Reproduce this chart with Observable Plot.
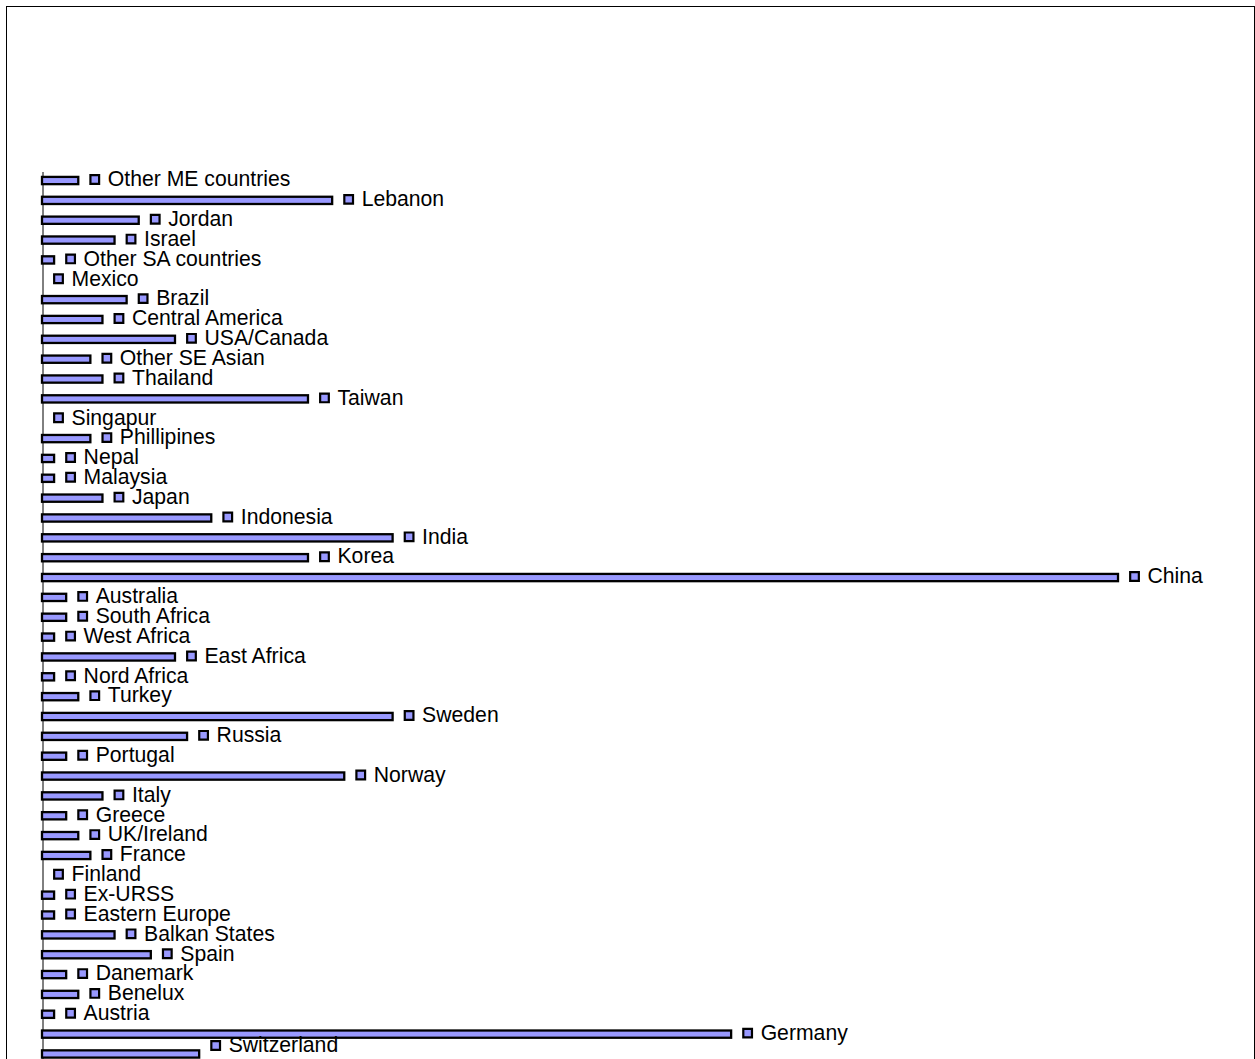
<!DOCTYPE html>
<html><head><meta charset="utf-8">
<script src="https://cdn.jsdelivr.net/npm/d3@7"></script>
<script src="https://cdn.jsdelivr.net/npm/@observablehq/plot@0.6"></script>
<style>
body{margin:0;background:#fff;}
#wrap{position:relative;width:1255px;height:1059px;overflow:hidden;background:#fff;}
#wrap svg{display:block;position:absolute;left:0;top:0;background:transparent;}
#frame{position:absolute;left:6px;top:6px;width:1249px;height:1100px;border:1px solid #000;box-sizing:border-box;pointer-events:none;}
</style></head><body>
<div id="wrap"><div id="frame"></div></div>
<script>
const countries = ["Other ME countries","Lebanon","Jordan","Israel","Other SA countries","Mexico","Brazil","Central America","USA/Canada","Other SE Asian","Thailand","Taiwan","Singapur","Phillipines","Nepal","Malaysia","Japan","Indonesia","India","Korea","China","Australia","South Africa","West Africa","East Africa","Nord Africa","Turkey","Sweden","Russia","Portugal","Norway","Italy","Greece","UK/Ireland","France","Finland","Ex-URSS","Eastern Europe","Balkan States","Spain","Danemark","Benelux","Austria","Germany","Switzerland"];
const values = [3,24,8,6,1,0,7,5,11,4,5,22,0,4,1,1,5,14,29,22,89,2,2,1,11,1,3,29,12,2,25,5,2,3,4,0,1,1,6,9,2,3,1,57,13];

const data = countries.map((c, i) => ({country: c, value: values[i]}));
const n = data.length;
const fillColor = "#9999ff";
const font = "'Liberation Sans', Arial, Helvetica, sans-serif";

const labelMarks = (filter, dy) => [
  Plot.dot(data, {filter, x: "value", y: "country", symbol: "square", r: 4.9, fill: fillColor, stroke: "#000", strokeWidth: 2.2, dx: 16, dy}),
  Plot.text(data, {filter, x: "value", y: "country", text: "country", dx: 29, dy, textAnchor: "start", fontSize: 21.2, fill: "#000"})
];

const chart = Plot.plot({
  width: 1255,
  height: 1059,
  marginTop: 172,
  marginBottom: 0,
  marginLeft: 0,
  marginRight: 0,
  style: {fontFamily: font, background: "transparent"},
  x: {domain: [0, 100], range: [42, 1251], axis: null},
  y: {type: "band", domain: countries, range: [170.6, 1063.9], paddingInner: 0, paddingOuter: 0, axis: null},
  marks: [
    Plot.ruleX([0], {stroke: "#000", strokeWidth: 1, dx: 0.5}),
    Plot.barX(data, {filter: d => d.value > 0, x: "value", y: "country", fill: fillColor, stroke: "#000", strokeWidth: 2.3, insetTop: 6.3, insetBottom: 6.3}),
    ...labelMarks((d, i) => i < n - 1, -1.5),
    ...labelMarks((d, i) => i === n - 1, -9)
  ]
});
document.getElementById("wrap").insertBefore(chart, document.getElementById("frame"));
</script>
</body></html>
